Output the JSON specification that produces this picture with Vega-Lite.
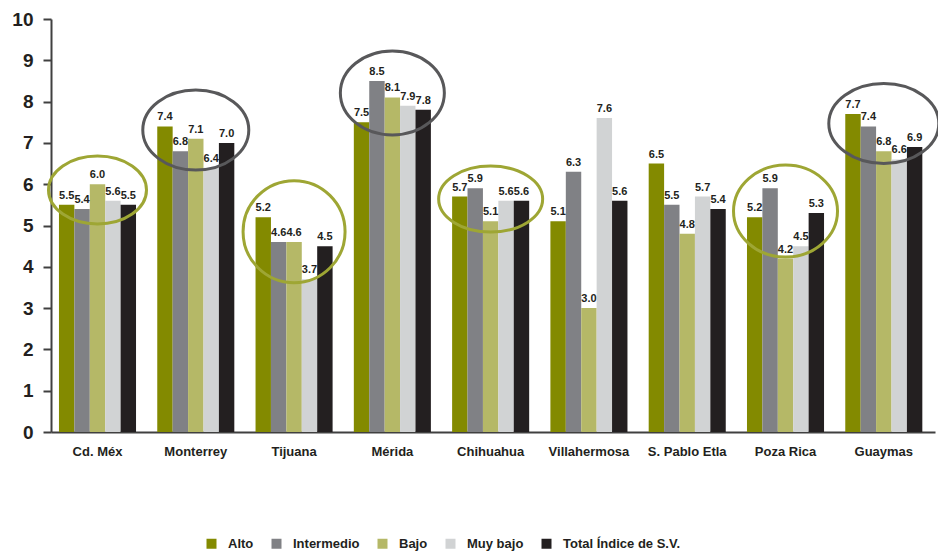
{
  "$schema": "https://vega.github.io/schema/vega-lite/v6.json",
  "width": 884,
  "height": 413,
  "autosize": "none",
  "padding": {"left": 51, "top": 19, "right": 3, "bottom": 122},
  "background": "white",
  "config": {"view": {"stroke": null}},
  "datasets": {
    "barras": [
      {"ciudad": "Cd. Méx", "serie": "Alto", "valor": 5.5},
      {"ciudad": "Cd. Méx", "serie": "Intermedio", "valor": 5.4},
      {"ciudad": "Cd. Méx", "serie": "Bajo", "valor": 6.0},
      {"ciudad": "Cd. Méx", "serie": "Muy bajo", "valor": 5.6},
      {"ciudad": "Cd. Méx", "serie": "Total Índice de S.V.", "valor": 5.5},
      {"ciudad": "Monterrey", "serie": "Alto", "valor": 7.4},
      {"ciudad": "Monterrey", "serie": "Intermedio", "valor": 6.8},
      {"ciudad": "Monterrey", "serie": "Bajo", "valor": 7.1},
      {"ciudad": "Monterrey", "serie": "Muy bajo", "valor": 6.4},
      {"ciudad": "Monterrey", "serie": "Total Índice de S.V.", "valor": 7.0},
      {"ciudad": "Tijuana", "serie": "Alto", "valor": 5.2},
      {"ciudad": "Tijuana", "serie": "Intermedio", "valor": 4.6},
      {"ciudad": "Tijuana", "serie": "Bajo", "valor": 4.6},
      {"ciudad": "Tijuana", "serie": "Muy bajo", "valor": 3.7},
      {"ciudad": "Tijuana", "serie": "Total Índice de S.V.", "valor": 4.5},
      {"ciudad": "Mérida", "serie": "Alto", "valor": 7.5},
      {"ciudad": "Mérida", "serie": "Intermedio", "valor": 8.5},
      {"ciudad": "Mérida", "serie": "Bajo", "valor": 8.1},
      {"ciudad": "Mérida", "serie": "Muy bajo", "valor": 7.9},
      {"ciudad": "Mérida", "serie": "Total Índice de S.V.", "valor": 7.8},
      {"ciudad": "Chihuahua", "serie": "Alto", "valor": 5.7},
      {"ciudad": "Chihuahua", "serie": "Intermedio", "valor": 5.9},
      {"ciudad": "Chihuahua", "serie": "Bajo", "valor": 5.1},
      {"ciudad": "Chihuahua", "serie": "Muy bajo", "valor": 5.6},
      {"ciudad": "Chihuahua", "serie": "Total Índice de S.V.", "valor": 5.6},
      {"ciudad": "Villahermosa", "serie": "Alto", "valor": 5.1},
      {"ciudad": "Villahermosa", "serie": "Intermedio", "valor": 6.3},
      {"ciudad": "Villahermosa", "serie": "Bajo", "valor": 3.0},
      {"ciudad": "Villahermosa", "serie": "Muy bajo", "valor": 7.6},
      {"ciudad": "Villahermosa", "serie": "Total Índice de S.V.", "valor": 5.6},
      {"ciudad": "S. Pablo Etla", "serie": "Alto", "valor": 6.5},
      {"ciudad": "S. Pablo Etla", "serie": "Intermedio", "valor": 5.5},
      {"ciudad": "S. Pablo Etla", "serie": "Bajo", "valor": 4.8},
      {"ciudad": "S. Pablo Etla", "serie": "Muy bajo", "valor": 5.7},
      {"ciudad": "S. Pablo Etla", "serie": "Total Índice de S.V.", "valor": 5.4},
      {"ciudad": "Poza Rica", "serie": "Alto", "valor": 5.2},
      {"ciudad": "Poza Rica", "serie": "Intermedio", "valor": 5.9},
      {"ciudad": "Poza Rica", "serie": "Bajo", "valor": 4.2},
      {"ciudad": "Poza Rica", "serie": "Muy bajo", "valor": 4.5},
      {"ciudad": "Poza Rica", "serie": "Total Índice de S.V.", "valor": 5.3},
      {"ciudad": "Guaymas", "serie": "Alto", "valor": 7.7},
      {"ciudad": "Guaymas", "serie": "Intermedio", "valor": 7.4},
      {"ciudad": "Guaymas", "serie": "Bajo", "valor": 6.8},
      {"ciudad": "Guaymas", "serie": "Muy bajo", "valor": 6.6},
      {"ciudad": "Guaymas", "serie": "Total Índice de S.V.", "valor": 6.9}
    ],
    "circulos": [
      {"ciudad": "Cd. Méx", "centro": 5.86},
      {"ciudad": "Monterrey", "centro": 7.31},
      {"ciudad": "Tijuana", "centro": 4.85},
      {"ciudad": "Mérida", "centro": 8.21},
      {"ciudad": "Chihuahua", "centro": 5.64},
      {"ciudad": "Poza Rica", "centro": 5.35},
      {"ciudad": "Guaymas", "centro": 7.47}
    ]
  },
  "encoding": {
    "x": {
      "field": "ciudad",
      "type": "nominal",
      "sort": ["Cd. Méx", "Monterrey", "Tijuana", "Mérida", "Chihuahua", "Villahermosa", "S. Pablo Etla", "Poza Rica", "Guaymas"],
      "scale": {"paddingInner": 0.216, "paddingOuter": 0.105, "align": 0.386},
      "axis": {
        "title": null,
        "labelAngle": 0,
        "ticks": false,
        "labelPadding": 13,
        "labelFont": "Liberation Sans",
        "labelFontWeight": "bold",
        "labelFontSize": 13,
        "labelColor": "#231F20",
        "domainColor": "#404040",
        "domainWidth": 2
      }
    }
  },
  "layer": [
    {
      "data": {"name": "barras"},
      "mark": {"type": "bar"},
      "encoding": {
        "xOffset": {
          "field": "serie",
          "type": "nominal",
          "sort": ["Alto", "Intermedio", "Bajo", "Muy bajo", "Total Índice de S.V."],
          "scale": {"paddingInner": 0, "paddingOuter": 0}
        },
        "y": {
          "field": "valor",
          "type": "quantitative",
          "scale": {"domain": [0, 10], "nice": false},
          "axis": {
            "title": null,
            "values": [0, 1, 2, 3, 4, 5, 6, 7, 8, 9, 10],
            "grid": false,
            "domainColor": "#404040",
            "domainWidth": 2,
            "tickColor": "#404040",
            "tickWidth": 2,
            "tickSize": 8,
            "labelPadding": 10,
            "labelFont": "Liberation Sans",
            "labelFontWeight": "bold",
            "labelFontSize": 19,
            "labelColor": "#231F20"
          }
        },
        "color": {
          "field": "serie",
          "type": "nominal",
          "sort": ["Alto", "Intermedio", "Bajo", "Muy bajo", "Total Índice de S.V."],
          "scale": {
            "domain": ["Alto", "Intermedio", "Bajo", "Muy bajo", "Total Índice de S.V."],
            "range": ["#838A00", "#808185", "#B5B867", "#D1D3D4", "#231F20"]
          },
          "legend": {
            "title": null,
            "orient": "none",
            "direction": "horizontal",
            "legendX": 154,
            "legendY": 518,
            "symbolType": "square",
            "symbolSize": 100,
            "symbolStrokeWidth": 0,
            "labelFont": "Liberation Sans",
            "labelFontWeight": "bold",
            "labelFontSize": 13,
            "labelColor": "#231F20",
            "labelOffset": 10,
            "columnPadding": 16,
            "padding": 0
          }
        }
      }
    },
    {
      "data": {"name": "barras"},
      "mark": {
        "type": "text",
        "baseline": "bottom",
        "dy": -4,
        "font": "Liberation Sans",
        "fontWeight": "bold",
        "fontSize": 11,
        "color": "#231F20"
      },
      "encoding": {
        "xOffset": {
          "field": "serie",
          "type": "nominal",
          "sort": ["Alto", "Intermedio", "Bajo", "Muy bajo", "Total Índice de S.V."]
        },
        "y": {"field": "valor", "type": "quantitative"},
        "text": {"field": "valor", "type": "quantitative", "format": ".1f"}
      }
    },
    {
      "data": {"name": "circulos"},
      "mark": {"type": "point", "filled": false, "strokeWidth": 3, "opacity": 1, "size": 4},
      "encoding": {
        "y": {"field": "centro", "type": "quantitative"},
        "shape": {
          "field": "ciudad",
          "type": "nominal",
          "scale": {
            "domain": ["Cd. Méx", "Monterrey", "Tijuana", "Mérida", "Chihuahua", "Poza Rica", "Guaymas"],
            "range": [
              "M -49 0 A 49 34 0 1 1 49 0 A 49 34 0 1 1 -49 0 Z",
              "M -53 0 A 53 40 0 1 1 53 0 A 53 40 0 1 1 -53 0 Z",
              "M -51 0 A 51 51 0 1 1 51 0 A 51 51 0 1 1 -51 0 Z",
              "M -52 0 A 52 42 0 1 1 52 0 A 52 42 0 1 1 -52 0 Z",
              "M -52 0 A 52 33 0 1 1 52 0 A 52 33 0 1 1 -52 0 Z",
              "M -52 0 A 52 46 0 1 1 52 0 A 52 46 0 1 1 -52 0 Z",
              "M -55 0 A 55 40 0 1 1 55 0 A 55 40 0 1 1 -55 0 Z"
            ]
          },
          "legend": null
        },
        "stroke": {
          "field": "ciudad",
          "type": "nominal",
          "scale": {
            "domain": ["Cd. Méx", "Monterrey", "Tijuana", "Mérida", "Chihuahua", "Poza Rica", "Guaymas"],
            "range": ["#9EA634", "#58585A", "#9EA634", "#58585A", "#9EA634", "#9EA634", "#58585A"]
          },
          "legend": null
        }
      }
    }
  ]
}
